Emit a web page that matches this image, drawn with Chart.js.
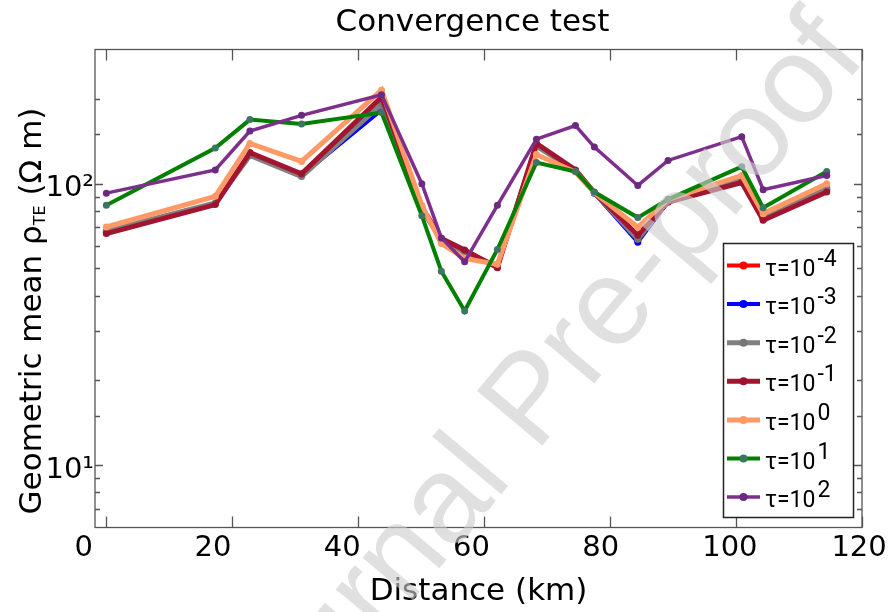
<!DOCTYPE html>
<html>
<head>
<meta charset="utf-8">
<script src="https://cdn.jsdelivr.net/npm/chart.js@4/dist/chart.umd.min.js"></script>
<style>
  html, body { margin: 0; padding: 0; background: #ffffff; }
  canvas { display: block; }
</style>
</head>
<body>
<canvas id="chart" width="891" height="612"></canvas>
<script>
// Station distances along the profile (km)
const distanceKm = [0, 17.3, 22.8, 31.0, 43.7, 50.1, 53.2, 56.9, 62.1, 68.3, 74.5, 77.5, 84.4, 89.2, 100.9, 104.3, 114.4];

// Geometric mean TE resistivity (ohm m) for each regularisation weight tau
const rhoTauM4 = [67, 85, 128, 107.5, 186, 82, 63.5, 57.8, 50.5, 138, 111, 93, 63, 86.5, 102.5, 75, 95];
const rhoTauM3 = [67.5, 85, 127, 107, 183, 81.5, 63.5, 57.5, 50.8, 137, 111, 92.5, 62, 86.5, 103.5, 75.5, 96];
const rhoTauM2 = [68, 85.5, 126, 106, 192, 81, 63, 57, 51, 136, 111, 93, 63.5, 87, 104, 76, 96.8];
const rhoTauM1 = [66.5, 84.3, 129, 108.5, 203, 82.6, 63.9, 58.1, 50.3, 139, 112, 93, 65.6, 86, 101, 74.2, 93.4];
const rhoTau0  = [70.2, 90.2, 139, 120, 215, 83.8, 61.3, 54.3, 51.7, 127, 110, 93, 70, 88, 107, 78.3, 100];
const rhoTau1  = [83.8, 134, 169, 163, 179, 77, 48.9, 35.3, 58.4, 119, 110.5, 93.4, 75.8, 88, 115, 82.2, 110.5];
const rhoTau2  = [92.6, 112, 154, 175, 207, 100, 64.2, 52.8, 83.8, 144, 161, 135, 98.6, 121, 147, 95.2, 107];

// Legend exponents of tau (tau = 10^exp)
const tauExponents = ['-4', '-3', '-2', '-1', '0', '1', '2'];

// Axis tick values
const xTickValues = [0, 20, 40, 60, 80, 100, 120];
const yLabelValues = [10, 100];

const seriesValues = [rhoTauM4, rhoTauM3, rhoTauM2, rhoTauM1, rhoTau0, rhoTau1, rhoTau2];
const lineColors   = ['#ff0000', '#0000ff', '#808080', '#a2142f', '#ff9966', '#008000', '#7e2f8e'];
const markerColors = ['#ff0000', '#0000ff', '#777777', '#9a1430', '#ff9966', '#3d7561', '#6b2a80'];
const lineWidths   = [4, 4, 5, 5, 5, 4, 3.5];

Chart.defaults.font.family = "'DejaVu Sans', sans-serif";
Chart.defaults.color = '#000000';

const datasets = seriesValues.map((vals, i) => ({
  label: 'τ=10^' + tauExponents[i],
  data: vals.map((v, k) => ({ x: distanceKm[k], y: v })),
  borderColor: lineColors[i],
  backgroundColor: markerColors[i],
  pointBackgroundColor: markerColors[i],
  pointBorderWidth: 0,
  pointRadius: 3.5,
  borderWidth: lineWidths[i],
  tension: 0,
  fill: false,
  // first series drawn first, tau=10^2 ends up on top
  order: seriesValues.length - i
}));

const decorations = {
  id: 'decorations',
  afterDatasetsDraw(chart) {
    const { ctx, chartArea: a, scales } = chart;
    const xs = scales.x, ys = scales.y;
    ctx.save();
    ctx.strokeStyle = '#555555';
    ctx.lineWidth = 1.3;
    ctx.strokeRect(a.left, a.top, a.right - a.left, a.bottom - a.top);
    ctx.beginPath();
    xTickValues.forEach(v => {
      const px = Math.round(xs.getPixelForValue(v)) + 0.5;
      ctx.moveTo(px, a.bottom); ctx.lineTo(px, a.bottom - 11);
      ctx.moveTo(px, a.top); ctx.lineTo(px, a.top + 11);
    });
    ys.ticks.forEach(t => {
      const py = Math.round(ys.getPixelForValue(t.value)) + 0.5;
      if (py <= a.top + 2 || py >= a.bottom - 2) return;
      const lg = Math.log10(t.value);
      const len = Math.abs(lg - Math.round(lg)) < 1e-9 ? 8 : 5;
      ctx.moveTo(a.left, py); ctx.lineTo(a.left + len, py);
      ctx.moveTo(a.right, py); ctx.lineTo(a.right - len, py);
    });
    ctx.stroke();
    ctx.restore();
  },
  afterDraw(chart) {
    const { ctx } = chart;
    ctx.save();
    // Title
    ctx.fillStyle = '#000';
    ctx.font = "31px 'DejaVu Sans'";
    ctx.textAlign = 'center';
    ctx.textBaseline = 'middle';
    ctx.fillText('Convergence test', 472.5, 23);

    // Y axis title with subscript
    ctx.save();
    ctx.translate(41, 311);
    ctx.rotate(-Math.PI / 2);
    ctx.textAlign = 'left';
    ctx.textBaseline = 'alphabetic';
    const mainFont = "31px 'DejaVu Sans'", subFont = "16px 'DejaVu Sans'";
    const p1 = 'Geometric mean ρ', p2 = 'TE', p3 = ' (Ω m)';
    ctx.font = mainFont; const w1 = ctx.measureText(p1).width, w3 = ctx.measureText(p3).width;
    ctx.font = subFont; const w2 = ctx.measureText(p2).width;
    let x0 = -(w1 + w2 + w3) / 2;
    ctx.font = mainFont; ctx.fillText(p1, x0, 0);
    ctx.font = subFont; ctx.fillText(p2, x0 + w1, 4);
    ctx.font = mainFont; ctx.fillText(p3, x0 + w1 + w2, 0);
    ctx.restore();

    // Legend
    const lx = 723.5, ly = 243.5, lw = 130, lh = 274;
    ctx.fillStyle = '#ffffff';
    ctx.fillRect(lx, ly, lw, lh);
    ctx.strokeStyle = '#222222';
    ctx.lineWidth = 1.5;
    ctx.strokeRect(lx, ly, lw, lh);
    chart.data.datasets.forEach((ds, i) => {
      const ry = 265.5 + i * 38.6;
      ctx.strokeStyle = ds.borderColor;
      ctx.lineWidth = ds.borderWidth;
      ctx.beginPath(); ctx.moveTo(727, ry); ctx.lineTo(760, ry); ctx.stroke();
      ctx.fillStyle = ds.pointBackgroundColor;
      ctx.beginPath(); ctx.arc(743.5, ry, 4, 0, Math.PI * 2); ctx.fill();
      ctx.fillStyle = '#000';
      ctx.font = "23px Roboto";
      ctx.textAlign = 'left';
      ctx.textBaseline = 'alphabetic';
      const base = 'τ=10';
      ctx.fillText(base, 765, ry + 10);
      const bw = ctx.measureText(base).width;
      ctx.fillText(tauExponents[i], 765 + bw + 2, ry);
    });

    // Watermark
    ctx.save();
    ctx.translate(537, 405);
    ctx.rotate(-50 * Math.PI / 180);
    ctx.font = "124px 'Liberation Sans'";
    ctx.textAlign = 'center';
    ctx.textBaseline = 'alphabetic';
    ctx.fillStyle = 'rgba(205,205,205,0.62)';
    ctx.fillText('Journal Pre-proof', 0, 30);
    ctx.restore();
    ctx.restore();
  }
};

new Chart(document.getElementById('chart'), {
  type: 'line',
  data: { datasets },
  options: {
    responsive: false,
    animation: false,
    devicePixelRatio: 1,
    layout: { padding: { left: 0, right: 29, top: 49.5, bottom: 0 } },
    plugins: { legend: { display: false }, title: { display: false }, tooltip: { enabled: false } },
    scales: {
      x: { type: 'linear', min: -1.8, max: 120, display: false },
      xLabels: {
        type: 'linear', position: 'bottom', min: 1.75, max: 120.45,
        afterBuildTicks: s => { s.ticks = xTickValues.map(v => ({ value: v })); },
        afterFit: s => { s.height = 84.5; },
        grid: { display: false, drawTicks: false },
        border: { display: false },
        ticks: { autoSkip: false, maxRotation: 0, padding: 4, color: '#000', font: { size: 29 }, callback: v => String(v) },
        title: { display: true, text: 'Distance (km)', color: '#000', font: { size: 31 }, padding: { top: 0, bottom: 1 } }
      },
      y: {
        type: 'logarithmic', min: 6, max: 300,
        afterFit: s => { s.width = 95; },
        grid: { display: false, drawTicks: false },
        border: { display: false },
        ticks: {
          autoSkip: false, padding: 1, labelOffset: 5, color: '#000', font: { size: 29 },
          callback: v => {
            const hit = yLabelValues.find(t => Math.abs(t - v) < 1e-6);
            return hit === 10 ? '10¹' : hit === 100 ? '10²' : '';
          }
        }
      }
    }
  },
  plugins: [decorations]
});
</script>
</body>
</html>
